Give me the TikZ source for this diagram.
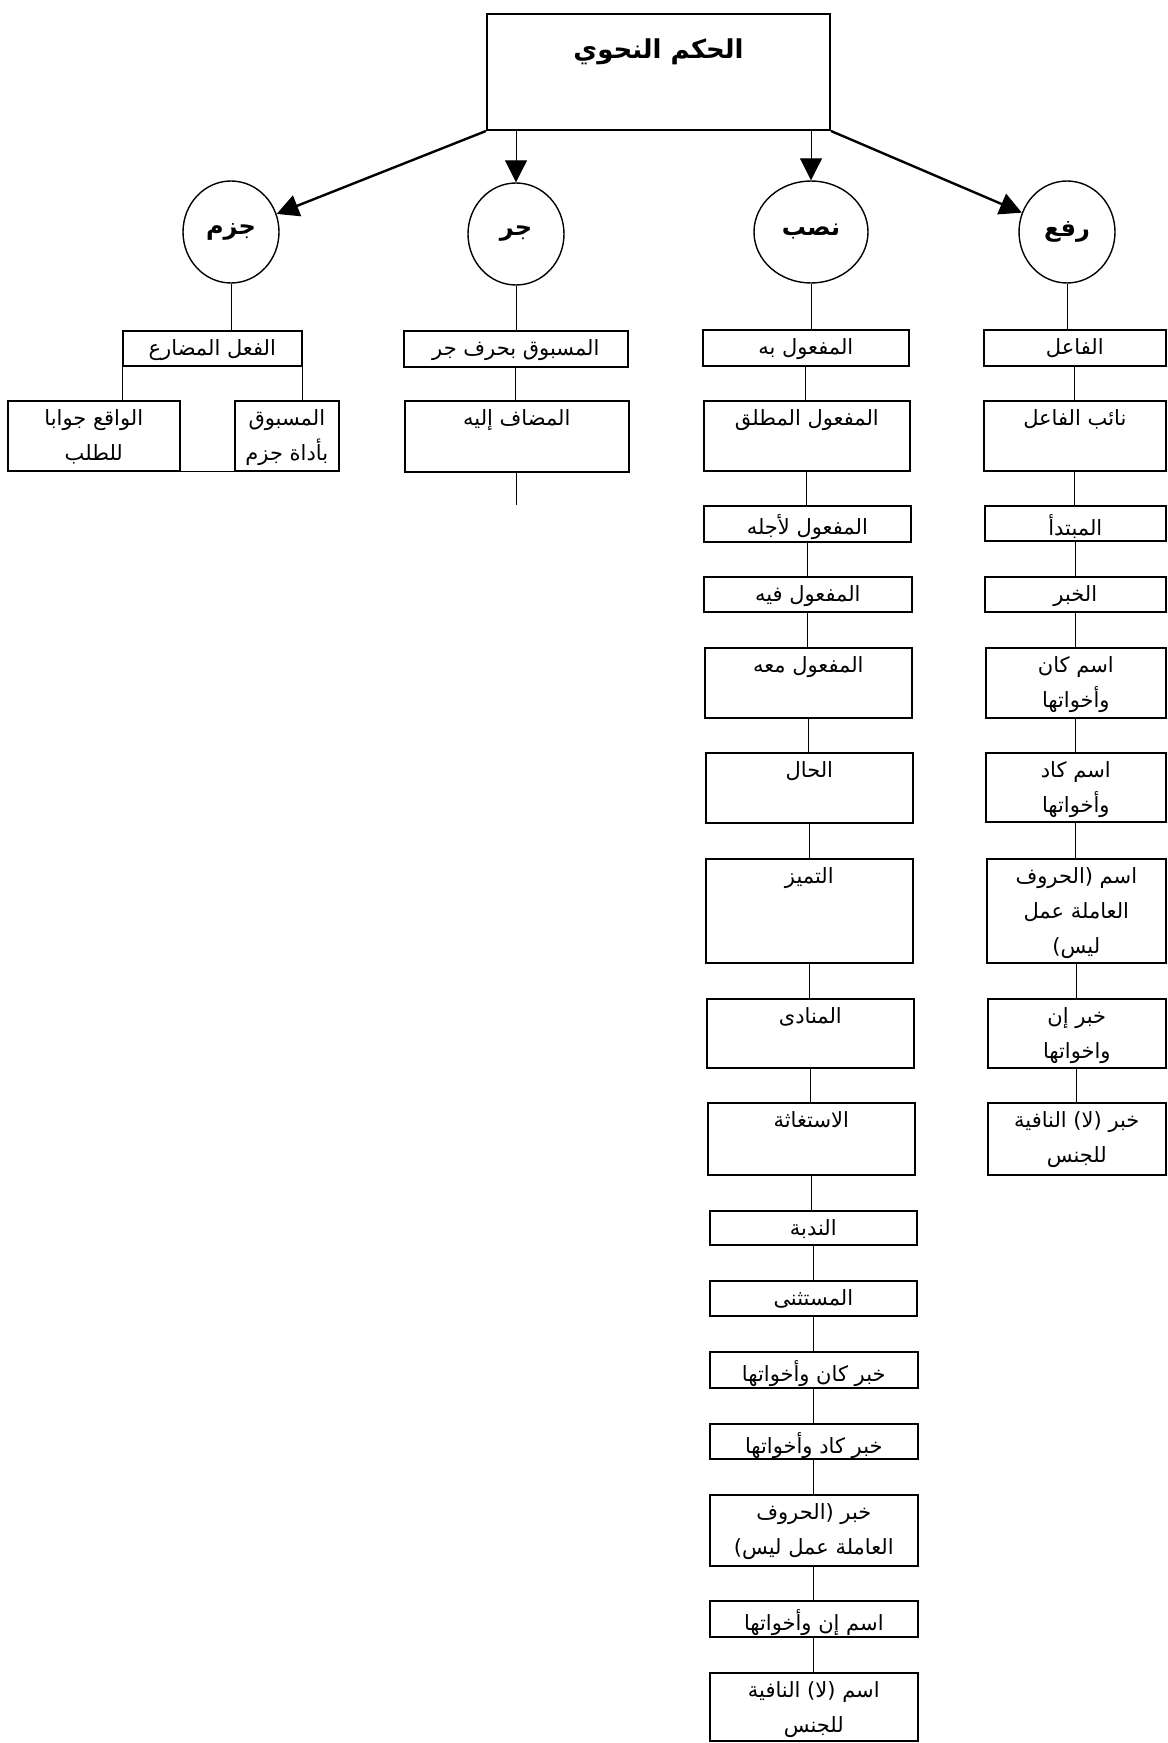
\documentclass[tikz,border=0pt]{standalone}
\usepackage{fontspec}
\newfontfamily\arabicfont[Script=Arabic]{DejaVu Sans}
\TeXXeTstate=1
\usetikzlibrary{arrows.meta, shapes.geometric}

\newdimen\pxu \pxu=0.5pt
\newcommand{\artxt}[1]{\beginR #1\endR}
\newcommand{\cellbox}[3]{\parbox[t][#2\pxu][t]{#1\pxu}{\centering\vspace*{4.5pt}#3}}

\begin{document}
\begin{tikzpicture}[
  x=0.5pt, y=-0.5pt,
  font=\arabicfont\fontsize{10.5}{17.5}\selectfont,
  cell/.style={draw, line width=0.8pt, inner sep=0pt, anchor=north west},
  root/.style={cell, line width=1pt},
  case/.style={draw, ellipse, line width=0.7pt, inner sep=0pt,
               minimum width=48pt, minimum height=51pt,
               font=\arabicfont\bfseries\fontsize{12}{14}\selectfont},
  link/.style={line width=0.5pt},
  arr/.style={-{Triangle[length=11pt,width=11pt]}, line width=0.5pt},
  bigarr/.style={arr, line width=1.2pt}
]
\useasboundingbox (0,0) rectangle (1167,1743);

%% Root
\node[root] (hukm) at (486,13)
    {\cellbox{343}{116}{\vspace*{8pt}\fontsize{13}{16}\selectfont\bfseries\artxt{الحكم النحوي}}};

%% Cases
\node[case] (jazm) at (231,232) {\artxt{جزم}};
\node[case] (jarr) at (516,234) {\artxt{جر}};
\node[case, minimum width=57pt] (nasb) at (811,232) {\artxt{نصب}};
\node[case] (raf)  at (1067,232) {\artxt{رفع}};

\draw[bigarr] (hukm.south west) -- (jazm);
\draw[arr] (hukm.south west -| jarr.north) -- (jarr.north);
\draw[arr] (hukm.south -| nasb.north) -- (nasb.north);
\draw[bigarr] (hukm.south east) -- (raf);

%% Jazm branch
\node[cell] (mudare) at (122,330) {\cellbox{179}{35}{\artxt{الفعل المضارع}}};
\node[cell] (waqe)   at (7,400)   {\cellbox{172}{70}{\artxt{الواقع جوابا}\\\artxt{للطلب}}};
\node[cell] (adat)   at (234,400) {\cellbox{104}{70}{\artxt{المسبوق}\\\artxt{بأداة جزم}}};

\draw[link] (jazm.south) -- (jazm.south |- mudare.north);
\draw[link] (mudare.south west) -- (mudare.south west |- waqe.north);
\draw[link] (mudare.south east) -- (mudare.south east |- adat.north);
\draw[link] (waqe.south east) -- (adat.south west);

%% Jarr branch
\node[cell] (harf)  at (403,330) {\cellbox{224}{36}{\artxt{المسبوق بحرف جر}}};
\node[cell] (mudaf) at (404,400) {\cellbox{224}{71}{\artxt{المضاف إليه}}};
\path (mudaf.south) ++(0,32) coordinate (mudafend);

\draw[link] (jarr.south) -- (jarr.south |- harf.north);
\draw[link] (harf.south) -- (harf.south |- mudaf.north);
\draw[link] (mudaf.south) -- (mudafend);

%% Nasb branch
\node[cell] (mafbih)    at (702,329)  {\cellbox{206}{36}{\artxt{المفعول به}}};
\node[cell] (mutlaq)    at (703,400)  {\cellbox{206}{70}{\artxt{المفعول المطلق}}};
\node[cell] (ajlih)     at (703,505)  {\cellbox{207}{36}{\artxt{المفعول لأجله}}};
\node[cell] (fihi)      at (703,576)  {\cellbox{208}{35}{\artxt{المفعول فيه}}};
\node[cell] (maahu)     at (704,647)  {\cellbox{207}{70}{\artxt{المفعول معه}}};
\node[cell] (hal)       at (705,752)  {\cellbox{207}{70}{\artxt{الحال}}};
\node[cell] (tamyiz)    at (705,858)  {\cellbox{207}{104}{\artxt{التميز}}};
\node[cell] (munada)    at (706,998)  {\cellbox{207}{69}{\artxt{المنادى}}};
\node[cell] (istigatha) at (707,1102) {\cellbox{207}{72}{\artxt{الاستغاثة}}};
\node[cell] (nudba)     at (709,1210) {\cellbox{207}{34}{\artxt{الندبة}}};
\node[cell] (mustathna) at (709,1280) {\cellbox{207}{35}{\artxt{المستثنى}}};
\node[cell] (khkana)    at (709,1351) {\cellbox{208}{36}{\artxt{خبر كان وأخواتها}}};
\node[cell] (khkada)    at (709,1423) {\cellbox{208}{35}{\artxt{خبر كاد وأخواتها}}};
\node[cell] (khlaysa)   at (709,1494) {\cellbox{208}{71}{\artxt{خبر (الحروف}\\\artxt{العاملة عمل ليس)}}};
\node[cell] (isminna)   at (709,1600) {\cellbox{208}{36}{\artxt{اسم إن وأخواتها}}};
\node[cell] (ismla)     at (709,1672) {\cellbox{208}{68}{\artxt{اسم (لا) النافية}\\\artxt{للجنس}}};

\draw[link] (nasb.south) -- (nasb.south |- mafbih.north);
\draw[link] (mafbih.south) -- (mafbih.south |- mutlaq.north);
\draw[link] (mutlaq.south) -- (mutlaq.south |- ajlih.north);
\draw[link] (ajlih.south) -- (ajlih.south |- fihi.north);
\draw[link] (fihi.south) -- (fihi.south |- maahu.north);
\draw[link] (maahu.south) -- (maahu.south |- hal.north);
\draw[link] (hal.south) -- (hal.south |- tamyiz.north);
\draw[link] (tamyiz.south) -- (tamyiz.south |- munada.north);
\draw[link] (munada.south) -- (munada.south |- istigatha.north);
\draw[link] (istigatha.south) -- (istigatha.south |- nudba.north);
\draw[link] (nudba.south) -- (nudba.south |- mustathna.north);
\draw[link] (mustathna.south) -- (mustathna.south |- khkana.north);
\draw[link] (khkana.south) -- (khkana.south |- khkada.north);
\draw[link] (khkada.south) -- (khkada.south |- khlaysa.north);
\draw[link] (khlaysa.south) -- (khlaysa.south |- isminna.north);
\draw[link] (isminna.south) -- (isminna.south |- ismla.north);

%% Raf branch
\node[cell] (fail)     at (983,329)  {\cellbox{182}{36}{\artxt{الفاعل}}};
\node[cell] (naib)     at (983,400)  {\cellbox{182}{70}{\artxt{نائب الفاعل}}};
\node[cell] (mubtada)  at (984,505)  {\cellbox{181}{35}{\artxt{المبتدأ}}};
\node[cell] (khabar)   at (984,576)  {\cellbox{181}{35}{\artxt{الخبر}}};
\node[cell] (ismkana)  at (985,647)  {\cellbox{180}{70}{\artxt{اسم كان}\\\artxt{وأخواتها}}};
\node[cell] (ismkada)  at (985,752)  {\cellbox{180}{69}{\artxt{اسم كاد}\\\artxt{وأخواتها}}};
\node[cell] (ismlaysa) at (986,858)  {\cellbox{179}{104}{\artxt{اسم (الحروف}\\\artxt{العاملة عمل}\\\artxt{ليس)}}};
\node[cell] (khinna)   at (987,998)  {\cellbox{178}{69}{\artxt{خبر إن}\\\artxt{واخواتها}}};
\node[cell] (khla)     at (987,1102) {\cellbox{178}{72}{\artxt{خبر (لا) النافية}\\\artxt{للجنس}}};

\draw[link] (raf.south) -- (raf.south |- fail.north);
\draw[link] (fail.south) -- (fail.south |- naib.north);
\draw[link] (naib.south) -- (naib.south |- mubtada.north);
\draw[link] (mubtada.south) -- (mubtada.south |- khabar.north);
\draw[link] (khabar.south) -- (khabar.south |- ismkana.north);
\draw[link] (ismkana.south) -- (ismkana.south |- ismkada.north);
\draw[link] (ismkada.south) -- (ismkada.south |- ismlaysa.north);
\draw[link] (ismlaysa.south) -- (ismlaysa.south |- khinna.north);
\draw[link] (khinna.south) -- (khinna.south |- khla.north);

\end{tikzpicture}
\end{document}
